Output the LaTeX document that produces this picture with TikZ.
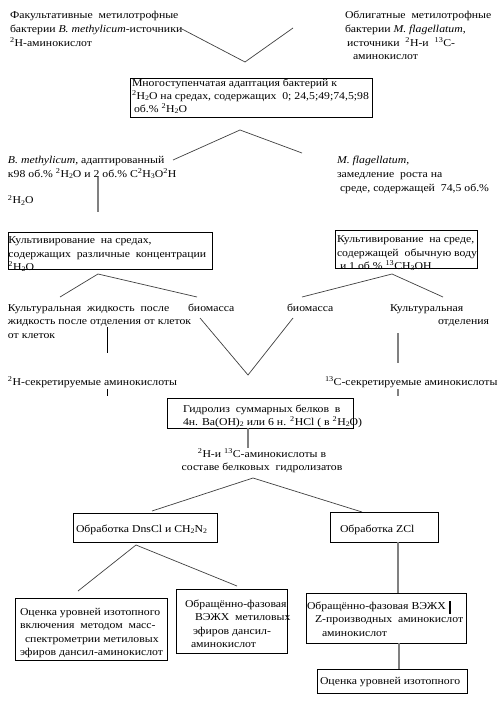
\documentclass[tikz,border=0pt]{standalone}
\usepackage{fontspec}
\setmainfont{Liberation Serif}[FakeStretch=1.12]
\usetikzlibrary{fit}
\newcommand\sps[1]{\textsuperscript{#1}}
\newcommand\sbs[1]{\raisebox{-0.25ex}{\scriptsize #1}}
\begin{document}
\begin{tikzpicture}[x=1pt,y=-1pt,
  txt/.style={anchor=north west,inner sep=0pt,outer sep=0pt,align=left,yshift=9.52pt,
    font=\fontsize{10.5}{13.6}\selectfont},
  box/.style={draw=black,line width=0.8pt,inner sep=0pt,outer sep=0pt},
  thinln/.style={draw=black!75,line width=0.7pt},
  grayln/.style={draw=black!50,line width=1.8pt},
  blackln/.style={draw=black,line width=0.9pt}]
\useasboundingbox (0,0) rectangle (500,711);
\fill[white] (0,0) rectangle (500,711);

% top texts
\node[txt] (t1) at (10,19) {\strut Факультативные\ \ метилотрофные\\бактерии \textit{B. methylicum}-источники\\\sps{2}H-аминокислот};
\node[txt] (t2) at (345,19) {\strut Облигатные\ \ метилотрофные\\бактерии \textit{M. flagellatum},\\\hspace*{2pt}источники\ \ \sps{2}H-и\ \ \sps{13}C-\\\hspace*{8pt}аминокислот};
\coordinate (v1l) at (180,28); \coordinate (v1a) at (245,62); \coordinate (v1r) at (293,28);
\draw[thinln] (v1l) -- (v1a) -- (v1r);

% adaptation box
\node[box,fit={(130,78) (372,117)}] (bA) {};
\node[txt,font=\fontsize{10.5}{13.2}\selectfont] (tA) at (132,86.5) {\strut Многоступенчатая адаптация бактерий к\\\sps{2}H\sbs{2}O на средах, содержащих\ \ 0; 24,5;49;74,5;98\\\hspace*{2pt}об.\% \sps{2}H\sbs{2}O};
\coordinate (v2l) at (173,160); \coordinate (v2a) at (240,130); \coordinate (v2r) at (302,153);
\draw[thinln] (v2l) -- (v2a) -- (v2r);

% B. methylicum text
\node[txt] (tB) at (8,164) {\strut\textit{B. methylicum}, адаптированный\\к98 об.\% \sps{2}H\sbs{2}O и 2 об.\% C\sps{2}H\sbs{3}O\sps{2}H};
\node[txt] (tB2) at (8,204) {\strut\sps{2}H\sbs{2}O};
\coordinate (l1t) at (98,177); \coordinate (l1b) at (98,212);
\draw[grayln] (l1t) -- (l1b);

% M. flagellatum text
\node[txt] (tC) at (337,164) {\strut\textit{M. flagellatum},\\замедление\ \ роста на\\\hspace*{3pt}среде, содержащей\ \ 74,5 об.\%};

% cultivation boxes
\node[box,fit={(8,232) (212,269)}] (bD) {};
\node[txt] (tD) at (8.5,243.5) {\strut Культивирование\ \ на средах,\\содержащих\ \ различные\ \ концентрации\\\sps{2}H\sbs{2}O};
\node[box,fit={(335,230) (477,268)}] (bE) {};
\node[txt] (tE) at (337,242.5) {\strut Культивирование\ \ на среде,\\содержащей\ \ обычную воду\\\hspace*{3pt}и 1 об.\% \sps{13}CH\sbs{3}OH};

\coordinate (dl) at (60,297); \coordinate (da) at (98,274); \coordinate (dr) at (197,297);
\draw[thinln] (dl) -- (da) -- (dr);
\coordinate (el) at (302,297); \coordinate (ea) at (392,274); \coordinate (er) at (443,297);
\draw[thinln] (el) -- (ea) -- (er);

% row of products
\node[txt] (tF1) at (8,311) {\strut Культуральная\ \ жидкость\ \ после\\жидкость\ после отделения\ от клеток\\от клеток};
\node[txt] (tF2) at (188,311) {\strut биомасса};
\node[txt] (tF3) at (287,311) {\strut биомасса};
\node[txt] (tF4) at (390,311) {\strut Культуральная};
\node[txt,anchor=north east] (tF5) at (489,324) {\strut отделения};

\coordinate (fl) at (200,318); \coordinate (fa) at (248,375); \coordinate (fr) at (293,318);
\draw[thinln] (fl) -- (fa) -- (fr);
\coordinate (l2t) at (107,327); \coordinate (l2b) at (107,353);
\draw[blackln] (l2t) -- (l2b);
\coordinate (l3t) at (398,333); \coordinate (l3b) at (398,363);
\draw[grayln] (l3t) -- (l3b);

\node[txt] (tG1) at (8,385.5) {\strut\sps{2}H-секретируемые аминокислоты};
\node[txt] (tG2) at (325,385.5) {\strut\sps{13}C-секретируемые аминокислоты};
\coordinate (l4t) at (107,389); \coordinate (l4b) at (107,396);
\draw[blackln] (l4t) -- (l4b);
\coordinate (l5t) at (398,389); \coordinate (l5b) at (398,396);
\draw[grayln] (l5t) -- (l5b);

% hydrolysis
\node[box,fit={(167,398) (353,428)}] (bH) {};
\node[txt] (tH) at (183,412) {\strut Гидролиз\ \ суммарных белков\ \ в\\4н. Ba(OH)\sbs{2} или 6 н. \sps{2}HCl ( в \sps{2}H\sbs{2}O)};
\coordinate (hb) at (248,448);
\draw[grayln] (bH.south -| hb) -- (hb);
\node[txt,align=center,anchor=north] (tI) at (262,457) {\strut\sps{2}H-и \sps{13}C-аминокислоты в\\составе белковых\ \ гидролизатов};

\coordinate (jl) at (152,511); \coordinate (ja) at (253,478); \coordinate (jr) at (362,512);
\draw[thinln] (jl) -- (ja) -- (jr);

\node[box,fit={(73,513) (217,542)}] (bK) {};
\node[txt] (tK) at (76,532) {\strut Обработка DnsCl и CH\sbs{2}N\sbs{2}};
\node[box,fit={(330,512) (438,542)}] (bL) {};
\node[txt] (tL) at (340,532) {\strut Обработка ZCl};

\coordinate (kl) at (78,591); \coordinate (ka) at (136,545); \coordinate (kr) at (237,586);
\draw[thinln] (kl) -- (ka) -- (kr);

\node[box,fit={(15,598) (167,660)}] (bM) {};
\node[txt] (tM) at (20,615) {\strut Оценка уровней изотопного\\включения\ \ методом\ \ масс-\\\hspace*{5pt}спектрометрии метиловых\\эфиров дансил-аминокислот};
\node[box,fit={(176,589) (287,653)}] (bN) {};
\node[txt] (tN) at (185,607) {\strut Обращённо-фазовая\\\hspace*{10pt}ВЭЖХ\ \ метиловых\\\hspace*{8pt}эфиров дансил-\\\hspace*{6pt}аминокислот};

\node[box,fit={(306,593) (466,643)}] (bO) {};
\node[txt] (tO) at (307,609) {\strut Обращённо-фазовая ВЭЖХ\\\hspace*{8pt}Z-производных\ \ аминокислот\\\hspace*{15pt}аминокислот};
\coordinate (bart) at (450,601); \coordinate (barb) at (450,614);
\draw[draw=black,line width=2pt] (bart) -- (barb);

\node[box,fit={(317,669) (467,693)}] (bP) {};
\node[txt] (tP) at (320,684) {\strut Оценка уровней изотопного};

\draw[grayln] (bL.south -| 398,0) -- (bO.north -| 398,0);
\draw[grayln] (bO.south -| 399,0) -- (bP.north -| 399,0);
\end{tikzpicture}
\end{document}
